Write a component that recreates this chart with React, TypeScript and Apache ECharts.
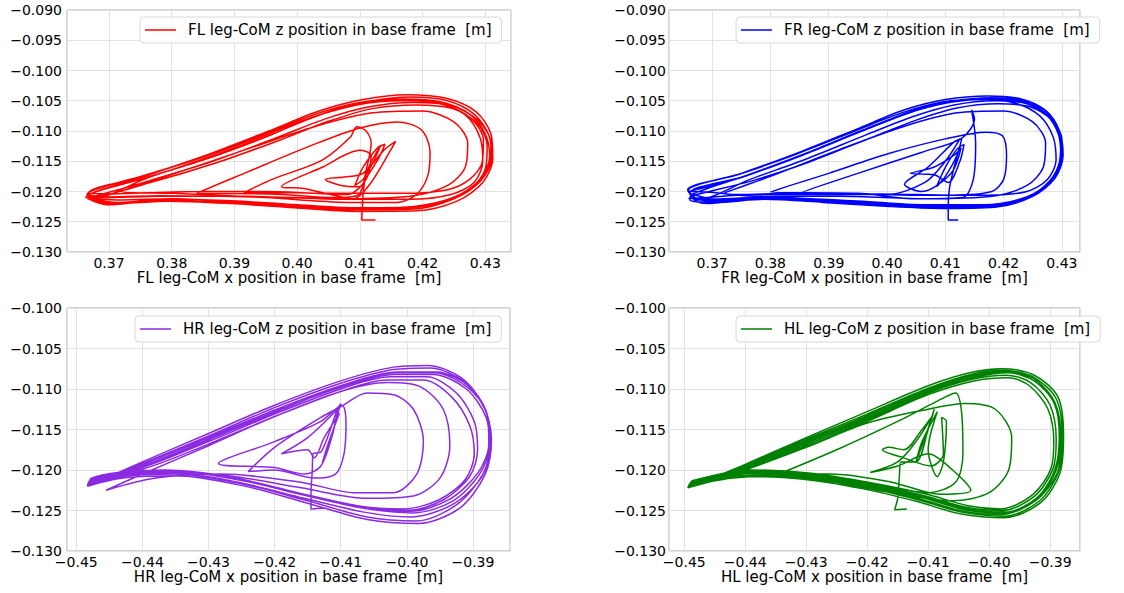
import React, { useEffect, useRef } from "react";
import * as echarts from "echarts";

type P = [number, number];

// ---------- FL ----------
const FL_transient: P[] = [
  [0.4125,-0.1247],[0.4103,-0.1247],[0.4104,-0.1225],[0.4106,-0.1195],[0.4112,-0.1165],[0.4125,-0.1138],[0.4133,-0.1124],[0.4122,-0.1150],[0.4105,-0.1180],[0.4092,-0.1190],[0.4105,-0.1160],[0.4128,-0.1128],[0.4140,-0.1122],[0.4130,-0.1145],[0.4110,-0.1178],[0.4100,-0.1192],[0.4070,-0.1190],[0.4045,-0.1180],[0.4075,-0.1176],[0.4105,-0.1170],[0.4140,-0.1130],[0.4157,-0.1117],[0.4150,-0.1130],[0.4118,-0.1185],[0.4090,-0.1212],[0.4075,-0.1210],[0.4010,-0.1195],[0.3975,-0.1192],[0.4040,-0.1160],[0.4100,-0.1132],[0.4118,-0.1140],[0.4110,-0.1180],[0.4080,-0.1205],[0.4000,-0.1202],[0.3915,-0.1202],[0.3960,-0.1180],[0.4040,-0.1148],[0.4085,-0.1110],[0.4095,-0.1093],[0.4110,-0.1100],[0.4118,-0.1120],[0.4110,-0.1165],[0.4098,-0.1205],[0.4060,-0.1210],[0.3960,-0.1204],[0.3840,-0.1203],[0.3920,-0.1168],[0.4020,-0.1125],[0.4100,-0.1095],[0.4160,-0.1085],[0.4198,-0.1098],[0.4212,-0.1135],[0.4208,-0.1175],[0.4190,-0.1205],[0.4160,-0.1218],[0.4080,-0.1218],[0.3950,-0.1210],[0.3800,-0.1203],[0.3720,-0.1200],[0.3800,-0.1172],[0.3920,-0.1130],[0.4030,-0.1092],[0.4120,-0.1070],[0.4200,-0.1067],[0.4250,-0.1085],[0.4272,-0.1120],[0.4268,-0.1160],[0.4240,-0.1190],[0.4180,-0.1208],[0.4070,-0.1212],[0.3920,-0.1208],[0.3780,-0.1208],[0.3690,-0.1210]
];
const FL_cycle1: P[] = [[0.3668,-0.1207],[0.3750,-0.1180],[0.3850,-0.1148],[0.3950,-0.1110],[0.4030,-0.1075],[0.4100,-0.1055],[0.4170,-0.1047],[0.4230,-0.1052],[0.4275,-0.1072],[0.4300,-0.1105],[0.4307,-0.1142],[0.4293,-0.1178],[0.4255,-0.1208],[0.4195,-0.1225],[0.4100,-0.1227],[0.4000,-0.1222],[0.3900,-0.1217],[0.3800,-0.1212],[0.3720,-0.1214],[0.3678,-0.1212]];
const FL_cycle2: P[] = [[0.3672,-0.1212],[0.3760,-0.1178],[0.3860,-0.1143],[0.3960,-0.1105],[0.4040,-0.1072],[0.4110,-0.1052],[0.4180,-0.1044],[0.4240,-0.1050],[0.4283,-0.1073],[0.4306,-0.1108],[0.4310,-0.1146],[0.4292,-0.1183],[0.4250,-0.1212],[0.4185,-0.1229],[0.4090,-0.1230],[0.3990,-0.1225],[0.3890,-0.1219],[0.3790,-0.1214],[0.3710,-0.1218],[0.3668,-0.1210]];
const FL_cycle3: P[] = [[0.3665,-0.1205],[0.3755,-0.1175],[0.3855,-0.1140],[0.3955,-0.1102],[0.4035,-0.1070],[0.4105,-0.1052],[0.4175,-0.1048],[0.4235,-0.1056],[0.4278,-0.1080],[0.4297,-0.1115],[0.4295,-0.1152],[0.4275,-0.1180],[0.4240,-0.1197],[0.4170,-0.1203],[0.4050,-0.1203],[0.3950,-0.1200],[0.3850,-0.1200],[0.3760,-0.1202],[0.3700,-0.1204],[0.3666,-0.1203]];
const FL_cycle4: P[] = [[0.3670,-0.1210],[0.3765,-0.1182],[0.3865,-0.1150],[0.3965,-0.1112],[0.4045,-0.1080],[0.4115,-0.1060],[0.4185,-0.1053],[0.4245,-0.1058],[0.4288,-0.1082],[0.4309,-0.1120],[0.4305,-0.1160],[0.4280,-0.1192],[0.4235,-0.1215],[0.4170,-0.1226],[0.4080,-0.1227],[0.3985,-0.1221],[0.3885,-0.1215],[0.3785,-0.1213],[0.3700,-0.1220],[0.3675,-0.1215]];
const FL_cycle5: P[] = [[0.3667,-0.1203],[0.3745,-0.1177],[0.3845,-0.1145],[0.3945,-0.1108],[0.4025,-0.1077],[0.4095,-0.1057],[0.4165,-0.1050],[0.4225,-0.1054],[0.4270,-0.1075],[0.4292,-0.1112],[0.4296,-0.1150],[0.4282,-0.1185],[0.4245,-0.1205],[0.4180,-0.1213],[0.4080,-0.1213],[0.3980,-0.1210],[0.3880,-0.1208],[0.3780,-0.1207],[0.3700,-0.1209],[0.3667,-0.1206]];
const FL_cycle6: P[] = [[0.3663,-0.1210],[0.3755,-0.1176],[0.3855,-0.1140],[0.3955,-0.1100],[0.4035,-0.1067],[0.4105,-0.1048],[0.4175,-0.1040],[0.4238,-0.1046],[0.4285,-0.1068],[0.4309,-0.1105],[0.4312,-0.1145],[0.4296,-0.1185],[0.4255,-0.1216],[0.4190,-0.1232],[0.4095,-0.1233],[0.3995,-0.1227],[0.3895,-0.1220],[0.3795,-0.1216],[0.3705,-0.1220],[0.3666,-0.1212]];
const FL_cycle7: P[] = [[0.3669,-0.1209],[0.3770,-0.1184],[0.3870,-0.1153],[0.3970,-0.1116],[0.4050,-0.1084],[0.4120,-0.1063],[0.4190,-0.1057],[0.4248,-0.1063],[0.4288,-0.1088],[0.4303,-0.1125],[0.4300,-0.1163],[0.4277,-0.1195],[0.4230,-0.1218],[0.4160,-0.1228],[0.4070,-0.1228],[0.3975,-0.1223],[0.3875,-0.1218],[0.3775,-0.1215],[0.3700,-0.1222],[0.3668,-0.1211]];

// ---------- FR ----------
const FR_transient: P[] = [
  [0.4122,-0.1247],[0.4105,-0.1247],[0.4105,-0.1225],[0.4107,-0.1195],[0.4115,-0.1160],[0.4125,-0.1125],[0.4128,-0.1113],[0.4120,-0.1140],[0.4100,-0.1175],[0.4085,-0.1192],[0.4100,-0.1160],[0.4120,-0.1130],[0.4132,-0.1122],[0.4125,-0.1150],[0.4105,-0.1185],[0.4080,-0.1172],[0.4040,-0.1170],[0.4080,-0.1160],[0.4115,-0.1140],[0.4127,-0.1128],[0.4110,-0.1170],[0.4060,-0.1200],[0.4030,-0.1188],[0.4070,-0.1160],[0.4115,-0.1118],[0.4125,-0.1113],[0.4100,-0.1150],[0.4065,-0.1185],[0.4000,-0.1205],[0.3850,-0.1203],[0.3950,-0.1170],[0.4060,-0.1135],[0.4128,-0.1112],[0.4150,-0.1080],[0.4145,-0.1065],[0.4152,-0.1120],[0.4148,-0.1180],[0.4130,-0.1210],[0.4050,-0.1212],[0.3950,-0.1203],[0.3800,-0.1201],[0.3900,-0.1170],[0.4000,-0.1138],[0.4100,-0.1113],[0.4170,-0.1102],[0.4198,-0.1108],[0.4205,-0.1140],[0.4200,-0.1180],[0.4180,-0.1200],[0.4110,-0.1206],[0.3990,-0.1204],[0.3850,-0.1205],[0.3720,-0.1203],[0.3800,-0.1175],[0.3920,-0.1130],[0.4030,-0.1092],[0.4120,-0.1070],[0.4200,-0.1067],[0.4250,-0.1085],[0.4272,-0.1120],[0.4268,-0.1160],[0.4240,-0.1190],[0.4180,-0.1208],[0.4070,-0.1212],[0.3920,-0.1208],[0.3780,-0.1208],[0.3670,-0.1200]
];
const FR_cycle1: P[] = [[0.3660,-0.1200],[0.3750,-0.1177],[0.3850,-0.1141],[0.3950,-0.1102],[0.4030,-0.1072],[0.4100,-0.1054],[0.4170,-0.1046],[0.4225,-0.1050],[0.4268,-0.1068],[0.4292,-0.1100],[0.4298,-0.1138],[0.4285,-0.1175],[0.4250,-0.1205],[0.4190,-0.1222],[0.4100,-0.1224],[0.4000,-0.1220],[0.3900,-0.1214],[0.3800,-0.1209],[0.3720,-0.1212],[0.3680,-0.1214]];
const FR_cycle2: P[] = [[0.3665,-0.1205],[0.3760,-0.1173],[0.3860,-0.1137],[0.3960,-0.1098],[0.4040,-0.1068],[0.4110,-0.1051],[0.4180,-0.1045],[0.4235,-0.1050],[0.4275,-0.1070],[0.4297,-0.1105],[0.4300,-0.1143],[0.4285,-0.1180],[0.4245,-0.1208],[0.4180,-0.1224],[0.4085,-0.1226],[0.3985,-0.1222],[0.3885,-0.1216],[0.3785,-0.1212],[0.3700,-0.1216],[0.3668,-0.1210]];
const FR_cycle3: P[] = [[0.3658,-0.1197],[0.3745,-0.1172],[0.3845,-0.1138],[0.3945,-0.1100],[0.4025,-0.1070],[0.4095,-0.1052],[0.4165,-0.1048],[0.4220,-0.1054],[0.4262,-0.1075],[0.4285,-0.1110],[0.4290,-0.1148],[0.4275,-0.1180],[0.4240,-0.1200],[0.4170,-0.1206],[0.4050,-0.1206],[0.3950,-0.1204],[0.3850,-0.1203],[0.3760,-0.1205],[0.3690,-0.1210],[0.3660,-0.1212]];
const FR_cycle4: P[] = [[0.3672,-0.1214],[0.3765,-0.1180],[0.3865,-0.1145],[0.3965,-0.1106],[0.4045,-0.1076],[0.4115,-0.1057],[0.4185,-0.1050],[0.4240,-0.1055],[0.4280,-0.1078],[0.4300,-0.1115],[0.4297,-0.1155],[0.4278,-0.1188],[0.4235,-0.1213],[0.4170,-0.1225],[0.4075,-0.1225],[0.3975,-0.1219],[0.3875,-0.1213],[0.3775,-0.1211],[0.3695,-0.1220],[0.3672,-0.1216]];
const FR_cycle5: P[] = [[0.3662,-0.1202],[0.3755,-0.1175],[0.3855,-0.1140],[0.3955,-0.1101],[0.4035,-0.1071],[0.4105,-0.1053],[0.4175,-0.1047],[0.4230,-0.1052],[0.4272,-0.1072],[0.4295,-0.1108],[0.4299,-0.1146],[0.4283,-0.1182],[0.4248,-0.1207],[0.4185,-0.1223],[0.4092,-0.1225],[0.3992,-0.1221],[0.3892,-0.1215],[0.3792,-0.1210],[0.3710,-0.1213],[0.3664,-0.1204]];
const FR_cycle6: P[] = [[0.3659,-0.1198],[0.3750,-0.1170],[0.3850,-0.1135],[0.3950,-0.1096],[0.4030,-0.1065],[0.4100,-0.1048],[0.4172,-0.1042],[0.4230,-0.1047],[0.4272,-0.1066],[0.4296,-0.1100],[0.4302,-0.1140],[0.4288,-0.1178],[0.4250,-0.1208],[0.4185,-0.1226],[0.4090,-0.1228],[0.3990,-0.1224],[0.3890,-0.1218],[0.3790,-0.1213],[0.3705,-0.1218],[0.3662,-0.1214]];
const FR_cycle7: P[] = [[0.3667,-0.1207],[0.3770,-0.1182],[0.3870,-0.1150],[0.3970,-0.1112],[0.4050,-0.1082],[0.4120,-0.1062],[0.4190,-0.1055],[0.4245,-0.1060],[0.4282,-0.1082],[0.4298,-0.1120],[0.4294,-0.1158],[0.4272,-0.1190],[0.4230,-0.1212],[0.4165,-0.1222],[0.4070,-0.1222],[0.3970,-0.1217],[0.3870,-0.1212],[0.3770,-0.1210],[0.3690,-0.1215],[0.3665,-0.1208]];

// ---------- HR ----------
const HR_transient: P[] = [
  [-0.4125,-0.1247],[-0.4145,-0.1248],[-0.4145,-0.1230],[-0.4143,-0.1200],[-0.4142,-0.1180],[-0.4130,-0.1178],[-0.4105,-0.1125],[-0.4100,-0.1118],[-0.4115,-0.1160],[-0.4128,-0.1192],[-0.4120,-0.1170],[-0.4102,-0.1130],[-0.4125,-0.1160],[-0.4140,-0.1185],[-0.4150,-0.1175],[-0.4190,-0.1180],[-0.4150,-0.1160],[-0.4105,-0.1125],[-0.4112,-0.1155],[-0.4130,-0.1195],[-0.4155,-0.1205],[-0.4200,-0.1197],[-0.4285,-0.1192],[-0.4200,-0.1165],[-0.4130,-0.1140],[-0.4098,-0.1120],[-0.4092,-0.1140],[-0.4095,-0.1180],[-0.4108,-0.1205],[-0.4140,-0.1210],[-0.4200,-0.1200],[-0.4240,-0.1202],[-0.4200,-0.1172],[-0.4130,-0.1135],[-0.4100,-0.1122],[-0.4060,-0.1105],[-0.4020,-0.1107],[-0.3990,-0.1125],[-0.3975,-0.1165],[-0.3985,-0.1205],[-0.4020,-0.1228],[-0.4080,-0.1228],[-0.4160,-0.1215],[-0.4280,-0.1205],[-0.4380,-0.1210],[-0.4455,-0.1225],[-0.4400,-0.1205],[-0.4300,-0.1170],[-0.4200,-0.1134],[-0.4100,-0.1103],[-0.4030,-0.1092],[-0.3980,-0.1097],[-0.3945,-0.1125],[-0.3935,-0.1170],[-0.3950,-0.1210],[-0.3990,-0.1232],[-0.4060,-0.1235],[-0.4160,-0.1222],[-0.4270,-0.1207],[-0.4380,-0.1203],[-0.4478,-0.1213]
];
const HR_cycle1: P[] = [[-0.4480,-0.1214],[-0.4400,-0.1195],[-0.4300,-0.1162],[-0.4200,-0.1128],[-0.4100,-0.1098],[-0.4020,-0.1082],[-0.3960,-0.1082],[-0.3910,-0.1100],[-0.3880,-0.1135],[-0.3875,-0.1170],[-0.3890,-0.1205],[-0.3930,-0.1238],[-0.3990,-0.1253],[-0.4060,-0.1248],[-0.4150,-0.1232],[-0.4250,-0.1213],[-0.4350,-0.1202],[-0.4430,-0.1204],[-0.4480,-0.1214]];
const HR_cycle2: P[] = [[-0.4482,-0.1218],[-0.4400,-0.1192],[-0.4300,-0.1158],[-0.4200,-0.1123],[-0.4100,-0.1093],[-0.4020,-0.1076],[-0.3965,-0.1074],[-0.3915,-0.1090],[-0.3882,-0.1125],[-0.3873,-0.1165],[-0.3885,-0.1205],[-0.3925,-0.1243],[-0.3985,-0.1263],[-0.4060,-0.1258],[-0.4150,-0.1238],[-0.4250,-0.1217],[-0.4350,-0.1205],[-0.4430,-0.1208],[-0.4482,-0.1218]];
const HR_cycle3: P[] = [[-0.4478,-0.1212],[-0.4400,-0.1197],[-0.4300,-0.1165],[-0.4200,-0.1131],[-0.4100,-0.1100],[-0.4025,-0.1085],[-0.3970,-0.1085],[-0.3925,-0.1105],[-0.3898,-0.1140],[-0.3893,-0.1175],[-0.3905,-0.1208],[-0.3945,-0.1237],[-0.4000,-0.1250],[-0.4070,-0.1246],[-0.4160,-0.1230],[-0.4260,-0.1211],[-0.4360,-0.1201],[-0.4435,-0.1205],[-0.4478,-0.1212]];
const HR_cycle4: P[] = [[-0.4481,-0.1216],[-0.4400,-0.1193],[-0.4300,-0.1160],[-0.4200,-0.1126],[-0.4100,-0.1096],[-0.4015,-0.1079],[-0.3955,-0.1079],[-0.3905,-0.1097],[-0.3878,-0.1133],[-0.3874,-0.1172],[-0.3888,-0.1210],[-0.3932,-0.1243],[-0.3995,-0.1258],[-0.4065,-0.1252],[-0.4155,-0.1235],[-0.4255,-0.1215],[-0.4355,-0.1203],[-0.4432,-0.1206],[-0.4481,-0.1216]];
const HR_cycle5: P[] = [[-0.4479,-0.1213],[-0.4400,-0.1196],[-0.4300,-0.1163],[-0.4200,-0.1129],[-0.4100,-0.1097],[-0.4018,-0.1080],[-0.3958,-0.1080],[-0.3908,-0.1098],[-0.3879,-0.1130],[-0.3876,-0.1168],[-0.3892,-0.1203],[-0.3935,-0.1236],[-0.3995,-0.1251],[-0.4063,-0.1247],[-0.4152,-0.1231],[-0.4252,-0.1212],[-0.4352,-0.1201],[-0.4430,-0.1203],[-0.4479,-0.1213]];
const HR_cycle6: P[] = [[-0.4483,-0.1220],[-0.4400,-0.1190],[-0.4300,-0.1155],[-0.4200,-0.1120],[-0.4100,-0.1090],[-0.4020,-0.1073],[-0.3968,-0.1071],[-0.3918,-0.1086],[-0.3884,-0.1120],[-0.3872,-0.1162],[-0.3882,-0.1206],[-0.3920,-0.1247],[-0.3982,-0.1266],[-0.4060,-0.1261],[-0.4150,-0.1241],[-0.4250,-0.1219],[-0.4350,-0.1207],[-0.4430,-0.1210],[-0.4483,-0.1220]];
const HR_cycle7: P[] = [[-0.4477,-0.1210],[-0.4400,-0.1199],[-0.4300,-0.1168],[-0.4200,-0.1134],[-0.4100,-0.1103],[-0.4030,-0.1089],[-0.3975,-0.1089],[-0.3932,-0.1110],[-0.3905,-0.1145],[-0.3898,-0.1180],[-0.3912,-0.1212],[-0.3952,-0.1237],[-0.4005,-0.1248],[-0.4075,-0.1244],[-0.4165,-0.1228],[-0.4265,-0.1209],[-0.4365,-0.1200],[-0.4437,-0.1203],[-0.4477,-0.1210]];

// ---------- HL ----------
const HL_transient: P[] = [
  [-0.4135,-0.1248],[-0.4155,-0.1249],[-0.4150,-0.1235],[-0.4147,-0.1205],[-0.4145,-0.1190],[-0.4120,-0.1190],[-0.4100,-0.1150],[-0.4090,-0.1125],[-0.4105,-0.1160],[-0.4120,-0.1190],[-0.4110,-0.1165],[-0.4085,-0.1128],[-0.4100,-0.1175],[-0.4085,-0.1208],[-0.4075,-0.1190],[-0.4070,-0.1140],[-0.4078,-0.1135],[-0.4075,-0.1180],[-0.4095,-0.1195],[-0.4140,-0.1185],[-0.4175,-0.1175],[-0.4165,-0.1172],[-0.4140,-0.1175],[-0.4110,-0.1150],[-0.4092,-0.1132],[-0.4120,-0.1165],[-0.4150,-0.1190],[-0.4195,-0.1203],[-0.4150,-0.1195],[-0.4100,-0.1180],[-0.4060,-0.1200],[-0.4030,-0.1225],[-0.4080,-0.1230],[-0.4160,-0.1215],[-0.4260,-0.1205],[-0.4345,-0.1205],[-0.4250,-0.1175],[-0.4150,-0.1140],[-0.4085,-0.1115],[-0.4055,-0.1105],[-0.4045,-0.1130],[-0.4043,-0.1180],[-0.4055,-0.1215],[-0.4100,-0.1228],[-0.4200,-0.1215],[-0.4320,-0.1206],[-0.4420,-0.1210],[-0.4480,-0.1218],[-0.4400,-0.1200],[-0.4300,-0.1172],[-0.4200,-0.1142],[-0.4100,-0.1125],[-0.4040,-0.1118],[-0.3990,-0.1125],[-0.3963,-0.1160],[-0.3968,-0.1200],[-0.4000,-0.1228],[-0.4060,-0.1238],[-0.4160,-0.1228],[-0.4280,-0.1212],[-0.4400,-0.1207],[-0.4490,-0.1217]
];
const HL_cycle1: P[] = [[-0.4490,-0.1217],[-0.4400,-0.1196],[-0.4300,-0.1166],[-0.4200,-0.1135],[-0.4100,-0.1102],[-0.4030,-0.1085],[-0.3975,-0.1079],[-0.3930,-0.1088],[-0.3895,-0.1115],[-0.3883,-0.1160],[-0.3890,-0.1200],[-0.3920,-0.1235],[-0.3975,-0.1253],[-0.4040,-0.1249],[-0.4110,-0.1234],[-0.4200,-0.1219],[-0.4300,-0.1207],[-0.4400,-0.1203],[-0.4490,-0.1217]];
const HL_cycle2: P[] = [[-0.4493,-0.1220],[-0.4400,-0.1194],[-0.4300,-0.1162],[-0.4200,-0.1131],[-0.4100,-0.1099],[-0.4030,-0.1082],[-0.3978,-0.1077],[-0.3928,-0.1085],[-0.3890,-0.1112],[-0.3880,-0.1160],[-0.3886,-0.1202],[-0.3917,-0.1238],[-0.3975,-0.1257],[-0.4045,-0.1252],[-0.4115,-0.1237],[-0.4205,-0.1221],[-0.4305,-0.1209],[-0.4405,-0.1206],[-0.4493,-0.1220]];
const HL_cycle3: P[] = [[-0.4487,-0.1214],[-0.4400,-0.1198],[-0.4300,-0.1169],[-0.4200,-0.1138],[-0.4100,-0.1105],[-0.4028,-0.1088],[-0.3972,-0.1083],[-0.3932,-0.1092],[-0.3900,-0.1120],[-0.3890,-0.1162],[-0.3895,-0.1198],[-0.3925,-0.1232],[-0.3978,-0.1250],[-0.4038,-0.1246],[-0.4105,-0.1232],[-0.4195,-0.1217],[-0.4295,-0.1205],[-0.4395,-0.1201],[-0.4487,-0.1214]];
const HL_cycle4: P[] = [[-0.4491,-0.1219],[-0.4400,-0.1195],[-0.4300,-0.1164],[-0.4200,-0.1133],[-0.4100,-0.1100],[-0.4032,-0.1084],[-0.3976,-0.1078],[-0.3927,-0.1087],[-0.3892,-0.1117],[-0.3882,-0.1163],[-0.3888,-0.1203],[-0.3922,-0.1237],[-0.3980,-0.1255],[-0.4042,-0.1251],[-0.4112,-0.1236],[-0.4202,-0.1220],[-0.4302,-0.1208],[-0.4402,-0.1204],[-0.4491,-0.1219]];
const HL_cycle5: P[] = [[-0.4488,-0.1216],[-0.4400,-0.1197],[-0.4300,-0.1167],[-0.4200,-0.1136],[-0.4100,-0.1103],[-0.4026,-0.1086],[-0.3970,-0.1080],[-0.3926,-0.1090],[-0.3893,-0.1118],[-0.3885,-0.1158],[-0.3892,-0.1199],[-0.3921,-0.1234],[-0.3973,-0.1252],[-0.4036,-0.1248],[-0.4108,-0.1233],[-0.4198,-0.1218],[-0.4298,-0.1206],[-0.4398,-0.1202],[-0.4488,-0.1216]];
const HL_cycle6: P[] = [[-0.4494,-0.1222],[-0.4400,-0.1193],[-0.4300,-0.1160],[-0.4200,-0.1128],[-0.4100,-0.1096],[-0.4032,-0.1080],[-0.3980,-0.1075],[-0.3926,-0.1083],[-0.3887,-0.1110],[-0.3878,-0.1158],[-0.3884,-0.1204],[-0.3915,-0.1240],[-0.3975,-0.1259],[-0.4048,-0.1254],[-0.4118,-0.1239],[-0.4208,-0.1223],[-0.4308,-0.1211],[-0.4408,-0.1208],[-0.4494,-0.1222]];
const HL_cycle7: P[] = [[-0.4486,-0.1213],[-0.4400,-0.1199],[-0.4300,-0.1171],[-0.4200,-0.1140],[-0.4100,-0.1107],[-0.4025,-0.1090],[-0.3968,-0.1086],[-0.3934,-0.1096],[-0.3904,-0.1124],[-0.3894,-0.1164],[-0.3898,-0.1197],[-0.3928,-0.1230],[-0.3980,-0.1248],[-0.4035,-0.1244],[-0.4102,-0.1230],[-0.4192,-0.1216],[-0.4292,-0.1204],[-0.4392,-0.1200],[-0.4486,-0.1213]];

const legs = ["FL", "FR", "HR", "HL"];
const colors = ["#ff0000", "#0000ff", "#8a2be2", "#008000"];
const xRanges: [number, number][] = [
  [0.3633, 0.4341],
  [0.3626, 0.4331],
  [-0.4514, -0.3844],
  [-0.4525, -0.3851],
];
const yRanges: [number, number][] = [
  [-0.13, -0.09],
  [-0.13, -0.09],
  [-0.13, -0.1],
  [-0.13, -0.1],
];
const trajectories: P[][] = [
  [...FL_transient, ...FL_cycle1, ...FL_cycle6, ...FL_cycle2, ...FL_cycle3, ...FL_cycle7, ...FL_cycle4, ...FL_cycle5],
  [...FR_transient, ...FR_cycle1, ...FR_cycle6, ...FR_cycle2, ...FR_cycle3, ...FR_cycle7, ...FR_cycle4, ...FR_cycle5],
  [...HR_transient, ...HR_cycle1, ...HR_cycle6, ...HR_cycle2, ...HR_cycle3, ...HR_cycle7, ...HR_cycle4, ...HR_cycle5],
  [...HL_transient, ...HL_cycle1, ...HL_cycle6, ...HL_cycle2, ...HL_cycle3, ...HL_cycle7, ...HL_cycle4, ...HL_cycle5],
];

const grids = [
  { left: 67, top: 10, width: 444, height: 242 },
  { left: 669, top: 10, width: 411, height: 242 },
  { left: 67, top: 308, width: 443, height: 243 },
  { left: 669, top: 308, width: 411, height: 243 },
];
const legendPos = [
  { left: 140, top: 17 },
  { left: 736, top: 17 },
  { left: 135, top: 316 },
  { left: 736, top: 316 },
];

const FONT = "DejaVu Sans";
const fmt = (v: number, d: number) => (v < 0 ? "\u2212" : "") + Math.abs(v).toFixed(d);

export default function App() {
  const ref = useRef<HTMLDivElement>(null);
  useEffect(() => {
    if (!ref.current) return;
    document.body.style.margin = "0";
    const chart = echarts.init(ref.current, undefined, { renderer: "svg" });
    const zName = (leg: string) => `${leg} leg-CoM z position in base frame  [m]`;
    const xName = (leg: string) => `${leg} leg-CoM x position in base frame  [m]`;
    chart.setOption({
      animation: false,
      backgroundColor: "#ffffff",
      grid: grids.map((g) => ({ ...g, show: true, borderColor: "#a8a8a8", borderWidth: 1, backgroundColor: "transparent" })),
      xAxis: legs.map((leg, i) => ({
        type: "value",
        gridIndex: i,
        min: xRanges[i][0],
        max: xRanges[i][1],
        splitNumber: 7,
        name: xName(leg),
        nameLocation: "middle",
        nameGap: 18,
        nameTextStyle: { fontFamily: FONT, fontSize: 15, color: "#000" },
        axisLine: { show: false },
        axisTick: { show: false },
        axisLabel: {
          fontFamily: FONT,
          fontSize: 14,
          color: "#000",
          margin: 4,
          showMinLabel: false,
          showMaxLabel: false,
          formatter: (v: number) => fmt(v, 2),
        },
        splitLine: { show: true, lineStyle: { color: "#e2e2e2", width: 1 } },
      })),
      yAxis: legs.map((leg, i) => ({
        type: "value",
        gridIndex: i,
        min: yRanges[i][0],
        max: yRanges[i][1],
        interval: 0.005,
        axisLine: { show: false },
        axisTick: { show: false },
        axisLabel: {
          fontFamily: FONT,
          fontSize: 14,
          color: "#000",
          margin: i % 2 === 0 ? 5 : 3,
          showMinLabel: true,
          showMaxLabel: true,
          formatter: (v: number) => fmt(v, 3),
        },
        splitLine: { show: true, lineStyle: { color: "#e2e2e2", width: 1 } },
      })),
      legend: legs.map((leg, i) => ({
        ...legendPos[i],
        data: [{ name: zName(leg), icon: "rect" }],
        orient: "horizontal",
        padding: [4, 10, 4, 5],
        itemWidth: 31,
        itemHeight: 1.5,
        borderColor: "#d8d8d8",
        borderWidth: 1,
        borderRadius: 4,
        backgroundColor: "rgba(255,255,255,0.85)",
        textStyle: { fontFamily: FONT, fontSize: 15, color: "#000", padding: [0, 0, 0, 7], lineHeight: 18 },
        selectedMode: false,
      })),
      series: legs.map((leg, i) => ({
        type: "line",
        name: zName(leg),
        xAxisIndex: i,
        yAxisIndex: i,
        data: trajectories[i],
        symbol: "none",
        showSymbol: false,
        smooth: 0.3,
        lineStyle: { color: colors[i], width: 1.5 },
        itemStyle: { color: colors[i] },
        clip: true,
      })),
    });
    return () => chart.dispose();
  }, []);
  return <div ref={ref} style={{ width: 1124, height: 593, position: "absolute", left: 0, top: 0 }} />;
}
